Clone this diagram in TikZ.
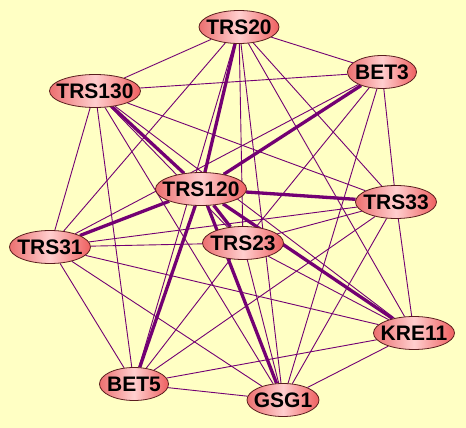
\documentclass[tikz,border=0pt]{standalone}
\usepackage{fontspec}
\setmainfont{Liberation Sans}
\usetikzlibrary{shapes.geometric,backgrounds}
\definecolor{paper}{RGB}{255,255,196}
\definecolor{link}{RGB}{115,0,115}
\definecolor{protleft}{RGB}{236,112,112}
\definecolor{protmid}{RGB}{255,206,206}
\definecolor{protright}{RGB}{238,96,96}
\definecolor{protedge}{RGB}{90,30,30}
\tikzset{
  protein/.style={ellipse, draw=protedge, line width=0.8pt,
    left color=protleft, right color=protright, middle color=protmid,
    minimum height=33pt, inner sep=0pt, text=black,
    font=\fontsize{21}{25}\selectfont\bfseries,
    execute at begin node={\hbox to 0pt\bgroup\hss},
    execute at end node={\hss\egroup}},
  weak/.style={draw=link, line width=0.9pt},
  strong/.style={draw=link, line width=3.3pt}
}

\begin{document}
\begin{tikzpicture}[x=1pt, y=-1pt]
  % proteins
  \node[protein, minimum width=80pt] (trs20) at (239,27) {TRS20};
  \node[protein, minimum width=69pt] (bet3) at (382,72) {BET3};
  \node[protein, minimum width=91pt] (trs130) at (95,91) {TRS130};
  \node[protein, minimum width=91pt] (trs120) at (201,189) {TRS120};
  \node[protein, minimum width=81pt] (trs33) at (396,202) {TRS33};
  \node[protein, minimum width=81pt] (trs31) at (50,247) {TRS31};
  \node[protein, minimum width=81pt] (trs23) at (243,243) {TRS23};
  \node[protein, minimum width=81pt] (kre11) at (414,333) {KRE11};
  \node[protein, minimum width=69pt] (bet5) at (134,384) {BET5};
  \node[protein, minimum width=72pt] (gsg1) at (283,400) {GSG1};

  \begin{pgfonlayer}{background}
    \fill[paper] (0,0) rectangle (466,428);

    % weak links
    \draw[weak] (trs20) -- (bet3) (trs20) -- (trs130) (trs20) -- (trs33)
      (trs20) -- (trs31) (trs20) -- (trs23) (trs20) -- (kre11)
      (trs20) -- (bet5) (trs20) -- (gsg1);
    \draw[weak] (bet3) -- (trs130) (bet3) -- (trs33) (bet3) -- (trs31)
      (bet3) -- (trs23) (bet3) -- (gsg1);
    \draw[weak] (trs130) -- (trs33) (trs130) -- (trs31) (trs130) -- (trs23)
      (trs130) -- (kre11) (trs130) -- (bet5) (trs130) -- (gsg1);
    \draw[weak] (trs33) -- (trs31) (trs33) -- (trs23) (trs33) -- (kre11)
      (trs33) -- (bet5) (trs33) -- (gsg1);
    \draw[weak] (trs31) -- (trs23) (trs31) -- (kre11) (trs31) -- (bet5)
      (trs31) -- (gsg1);
    \draw[weak] (trs23) -- (kre11) (trs23) -- (bet5) (trs23) -- (gsg1);
    \draw[weak] (kre11) -- (bet5) (kre11) -- (gsg1) (bet5) -- (gsg1);

    % strong links, all from TRS120
    \draw[strong] (trs120) -- (trs20) (trs120) -- (bet3) (trs120) -- (trs130)
      (trs120) -- (trs33) (trs120) -- (trs31) (trs120) -- (trs23)
      (trs120) -- (kre11) (trs120) -- (bet5) (trs120) -- (gsg1);
  \end{pgfonlayer}
\end{tikzpicture}
\end{document}
